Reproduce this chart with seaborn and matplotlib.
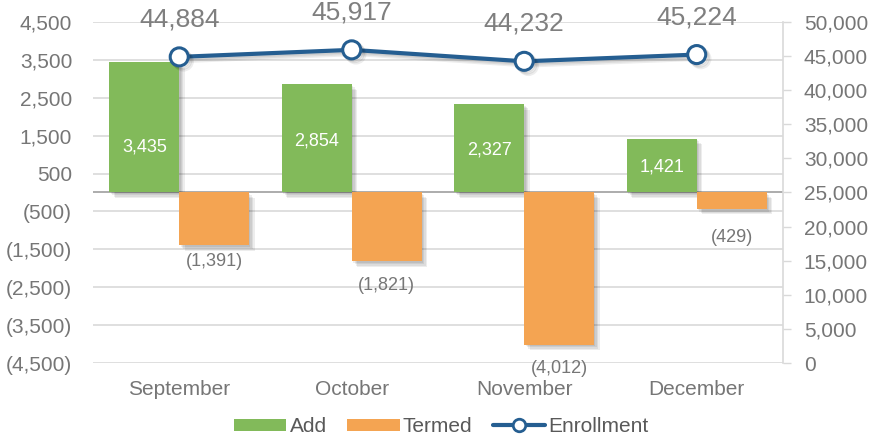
import numpy as np
import pandas as pd
import matplotlib
matplotlib.use('Agg')
import matplotlib.pyplot as plt
import matplotlib.patheffects as pe
from matplotlib.patches import Patch
from matplotlib.lines import Line2D
from matplotlib.ticker import FuncFormatter, FixedLocator
import seaborn as sns

months = ['September', 'October', 'November', 'December']
adds = [3435, 2854, 2327, 1421]
termed = [-1391, -1821, -4012, -429]
enrollment = [44884, 45917, 44232, 45224]

GREEN = '#82BA5A'
ORANGE = '#F4A452'
BLUE = '#255E91'
TICK_GRAY = '#767676'
GRID = '#D9D9D9'

# label nudges in points (the source chart had a few hand-placed labels)
add_label_nudge = [-14, -2, -1, -1]
termed_label_nudge = [-12, -17, -17, -21]

sns.set_style('white')
plt.rcParams['font.family'] = ['Liberation Sans', 'DejaVu Sans']

df = pd.DataFrame({
    'month': months * 2,
    'series': ['Add'] * 4 + ['Termed'] * 4,
    'value': adds + termed,
})

fig = plt.figure(figsize=(8.69, 4.4), dpi=100)
ax = fig.add_axes([0.107, 0.175, 0.794, 0.775])

sns.barplot(data=df, x='month', y='value', hue='series', order=months,
            hue_order=['Add', 'Termed'], palette=[GREEN, ORANGE],
            width=0.81, gap=0, saturation=1, errorbar=None, legend=False,
            ax=ax, zorder=3)

# soft-ish drop shadow: a few faint layers
bar_shadow = [pe.SimplePatchShadow(offset=(d, -d), shadow_rgbFace='black', alpha=0.07)
              for d in (1, 2, 3, 4)] + [pe.Normal()]
for p in ax.patches:
    p.set_path_effects(bar_shadow)
    p.set_linewidth(0)

ax.set_ylim(-4500, 4500)
ax.set_xlim(-0.5, 3.5)
ax.yaxis.set_major_locator(FixedLocator(np.arange(-4500, 4501, 1000)))
ax.yaxis.set_major_formatter(FuncFormatter(
    lambda v, _: f'({abs(int(v)):,})' if v < 0 else f'{int(v):,}'))
ax.grid(axis='y', color=GRID, linewidth=1.2, zorder=0)
ax.set_axisbelow(True)
ax.axhline(0, color='#A6A6A6', linewidth=1.3, zorder=2)
for s in ax.spines.values():
    s.set_visible(False)
ax.tick_params(axis='y', length=0, pad=15, labelsize=15, labelcolor=TICK_GRAY)
ax.tick_params(axis='x', length=0, pad=12, labelsize=15, labelcolor=TICK_GRAY)
ax.set_xlabel('')
ax.set_ylabel('')

# data labels on bars
bw = 0.405
for i, v in enumerate(adds):
    ax.annotate(f'{v:,}', xy=(i - bw / 2, v / 2), xytext=(0, add_label_nudge[i]),
                textcoords='offset points', ha='center', va='center',
                color='white', fontsize=13, zorder=5)
for i, v in enumerate(termed):
    ax.annotate(f'({abs(v):,})', xy=(i + bw / 2, v), xytext=(0, termed_label_nudge[i]),
                textcoords='offset points', ha='center', va='center',
                color=TICK_GRAY, fontsize=13, annotation_clip=False, zorder=5)

# enrollment line on secondary axis
ax2 = ax.twinx()
line_shadow = [pe.SimpleLineShadow(offset=(d, -d), shadow_color='black', alpha=0.07)
               for d in (1, 2, 3)] + [pe.Normal()]
sns.lineplot(x=np.arange(len(months)), y=enrollment, ax=ax2, color=BLUE,
             linewidth=3, marker='o', markersize=13, markerfacecolor='white',
             markeredgecolor=BLUE, markeredgewidth=2.2,
             path_effects=line_shadow, zorder=6)
ax2.set_ylim(0, 50000)
ax2.yaxis.set_major_locator(FixedLocator(np.arange(0, 50001, 5000)))
ax2.yaxis.set_major_formatter(FuncFormatter(lambda v, _: f'{int(v):,}'))
for name, s in ax2.spines.items():
    s.set_visible(name == 'right')
ax2.spines['right'].set_color(GRID)
ax2.spines['right'].set_linewidth(1.2)
ax2.tick_params(axis='y', length=6, width=1, color=GRID, pad=9,
                labelsize=15, labelcolor=TICK_GRAY)
ax2.set_ylabel('')
for i, v in enumerate(enrollment):
    ax2.annotate(f'{v:,}', xy=(i, v), xytext=(0, 27), textcoords='offset points',
                 ha='center', va='center', color='#7F7F7F', fontsize=19,
                 annotation_clip=False)

handles = [
    Patch(facecolor=GREEN, edgecolor='none', label='Add'),
    Patch(facecolor=ORANGE, edgecolor='none', label='Termed'),
    Line2D([0], [0], color=BLUE, linewidth=3, marker='o', markersize=9,
           markerfacecolor='white', markeredgecolor=BLUE, markeredgewidth=2,
           label='Enrollment'),
]
fig.legend(handles=handles, loc='center', bbox_to_anchor=(0.508, 0.03), ncol=3,
           frameon=False, fontsize=15, labelcolor='#595959', handlelength=2.5,
           handleheight=0.55, handletextpad=0.15, columnspacing=1.0)

fig.savefig('out.png', dpi=100, facecolor='white')
